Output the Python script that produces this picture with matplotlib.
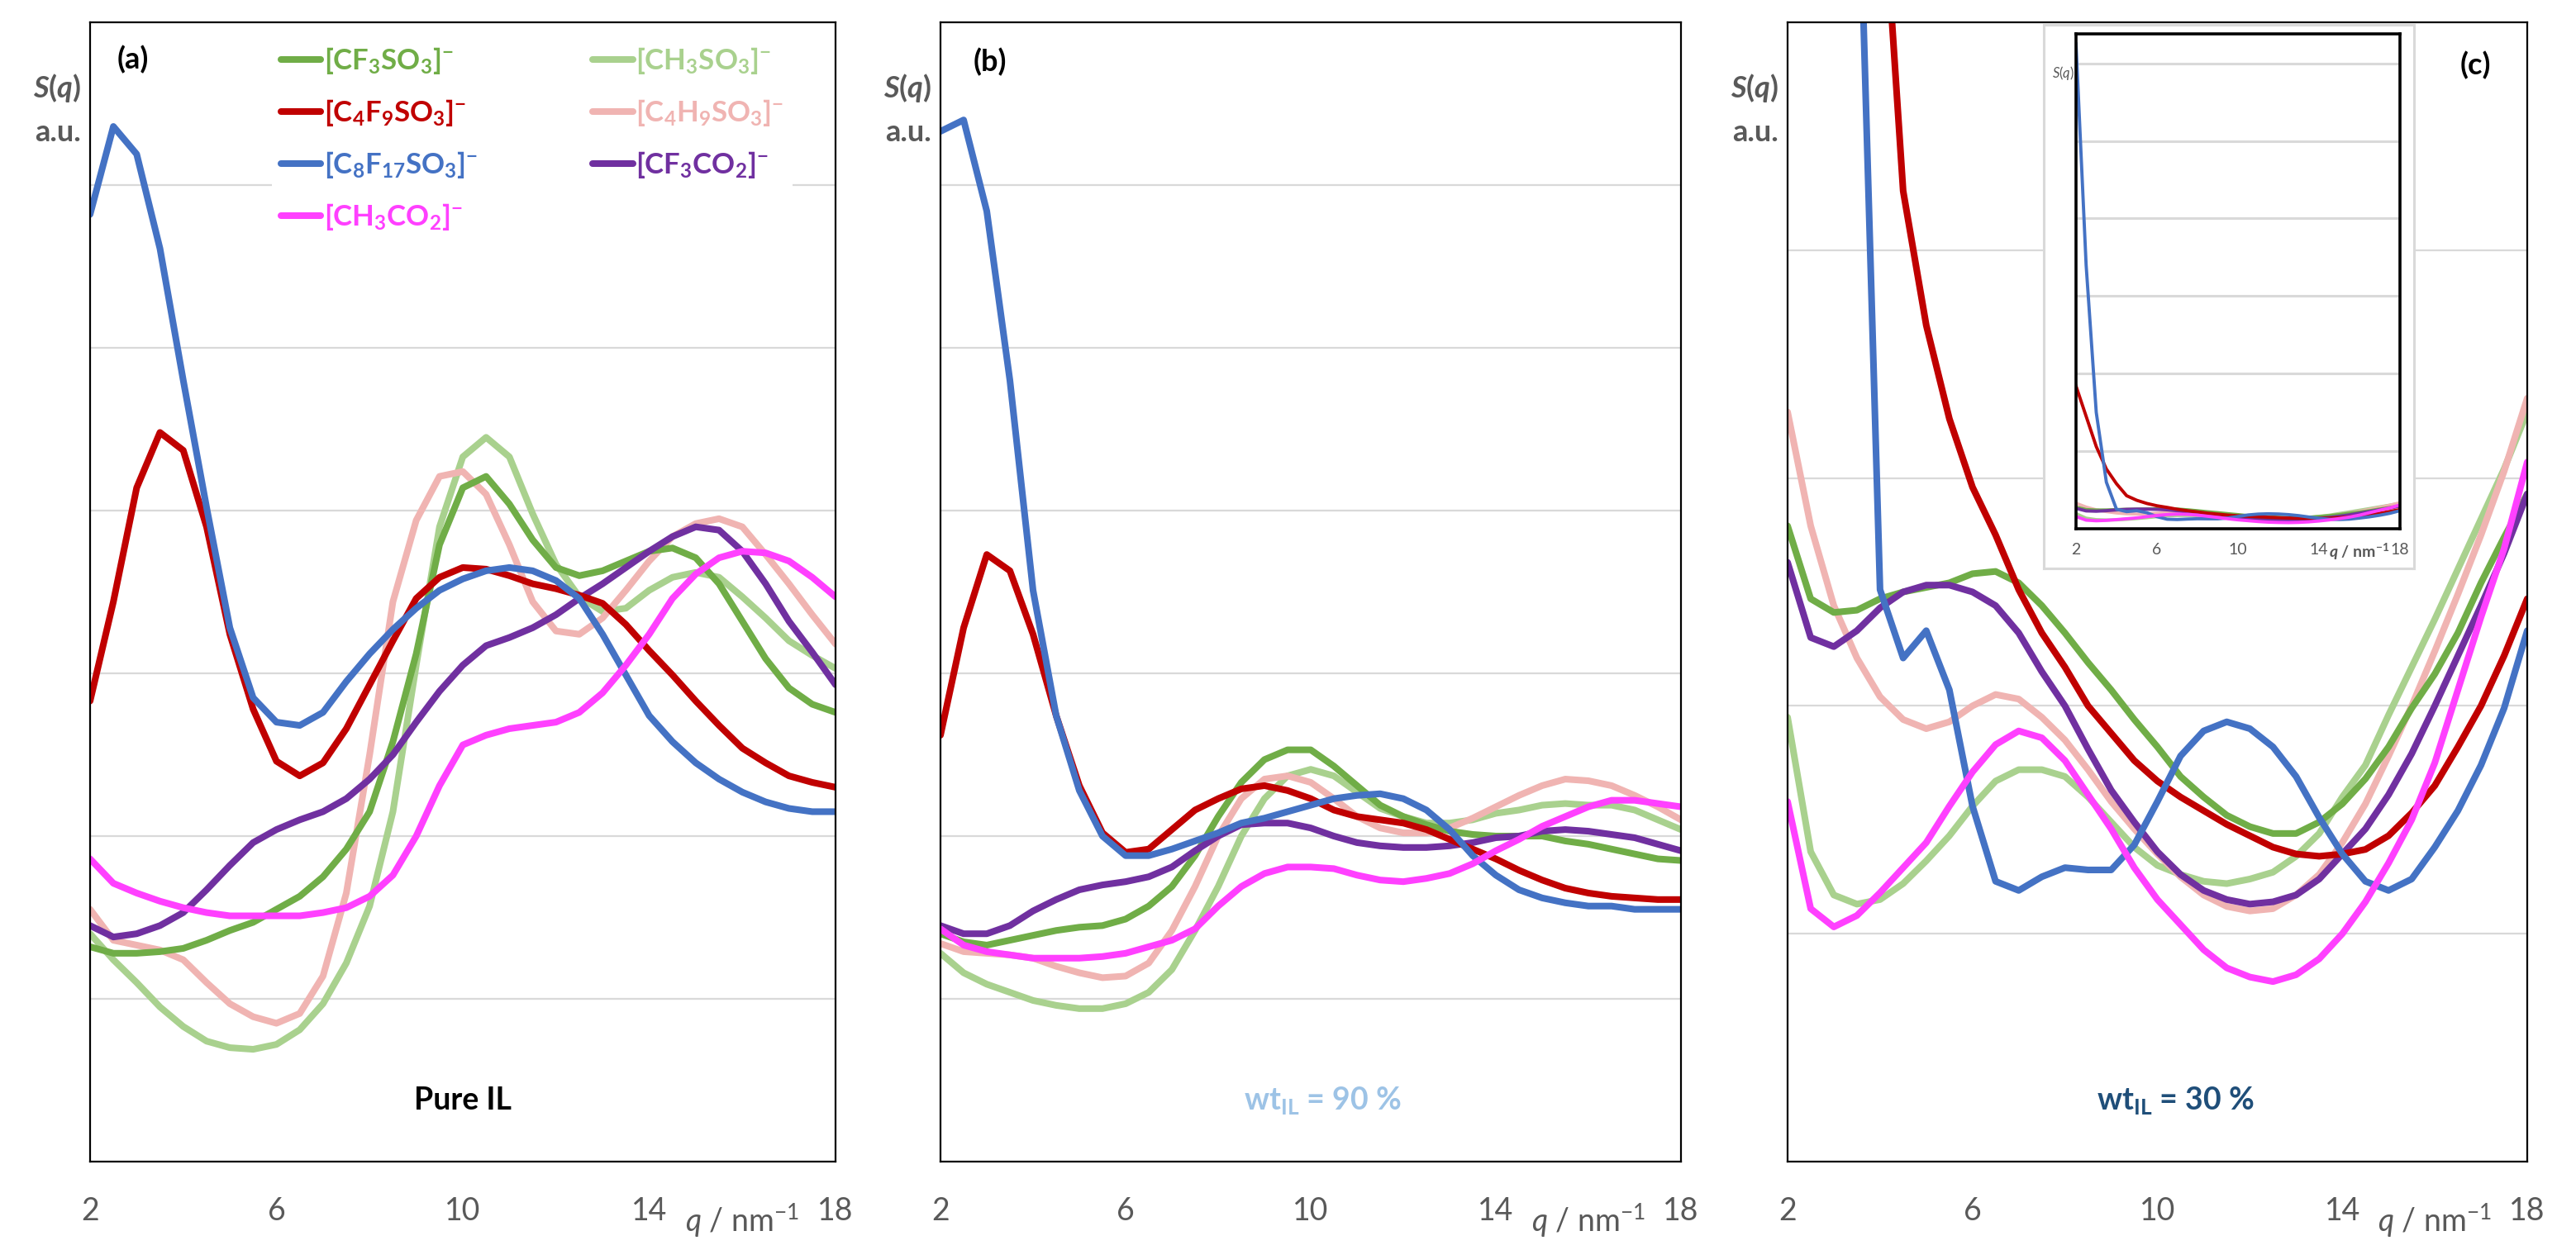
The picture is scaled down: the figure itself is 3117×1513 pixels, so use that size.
import numpy as np
import matplotlib
matplotlib.use('Agg')
import matplotlib.pyplot as plt

plt.rcParams['font.family'] = ['Lato', 'DejaVu Sans']
plt.rcParams['mathtext.fontset'] = 'custom'
plt.rcParams['mathtext.rm'] = 'Lato'
plt.rcParams['mathtext.it'] = 'Lato:italic'
plt.rcParams['mathtext.bf'] = 'Lato:bold'
plt.rcParams['mathtext.bfit'] = 'Lato:italic:bold'

# q grid (nm-1)
q = [2, 2.5, 3, 3.5, 4, 4.5, 5, 5.5, 6, 6.5, 7, 7.5, 8, 8.5, 9, 9.5, 10,
     10.5, 11, 11.5, 12, 12.5, 13, 13.5, 14, 14.5, 15, 15.5, 16, 16.5, 17, 17.5, 18]

# (a) pure IL
cf3so3_a = [1.32, 1.28, 1.28, 1.29, 1.31, 1.36, 1.42, 1.47, 1.55, 1.63, 1.75, 1.92, 2.15, 2.58, 3.12, 3.79, 4.14,
            4.21, 4.04, 3.82, 3.65, 3.60, 3.63, 3.69, 3.75, 3.77, 3.71, 3.55, 3.32, 3.09, 2.91, 2.81, 2.76]
c4f9so3_a = [2.83, 3.44, 4.14, 4.48, 4.37, 3.90, 3.24, 2.78, 2.46, 2.37, 2.45, 2.66, 2.93, 3.20, 3.46, 3.59, 3.65,
             3.64, 3.60, 3.55, 3.52, 3.48, 3.43, 3.30, 3.14, 2.99, 2.83, 2.68, 2.54, 2.45, 2.37, 2.33, 2.30]
c8f17so3_a = [5.82, 6.36, 6.19, 5.61, 4.80, 4.02, 3.28, 2.85, 2.70, 2.68, 2.76, 2.95, 3.12, 3.27, 3.40, 3.51, 3.58,
              3.63, 3.65, 3.63, 3.57, 3.46, 3.24, 2.99, 2.74, 2.58, 2.45, 2.35, 2.27, 2.21, 2.17, 2.15, 2.15]
ch3so3_a = [1.40, 1.24, 1.10, 0.95, 0.83, 0.74, 0.70, 0.69, 0.72, 0.81, 0.97, 1.22, 1.57, 2.15, 3.05, 3.90, 4.33,
            4.45, 4.33, 3.98, 3.67, 3.47, 3.38, 3.40, 3.51, 3.59, 3.62, 3.59, 3.47, 3.34, 3.20, 3.11, 3.03]
c4h9so3_a = [1.55, 1.36, 1.33, 1.30, 1.24, 1.10, 0.97, 0.89, 0.85, 0.91, 1.14, 1.65, 2.50, 3.44, 3.94, 4.21, 4.24,
             4.10, 3.79, 3.44, 3.26, 3.24, 3.34, 3.51, 3.69, 3.84, 3.92, 3.95, 3.90, 3.73, 3.55, 3.36, 3.18]
cf3co2_a = [1.45, 1.38, 1.40, 1.45, 1.53, 1.67, 1.82, 1.96, 2.04, 2.10, 2.15, 2.23, 2.35, 2.50, 2.70, 2.89, 3.05,
            3.17, 3.22, 3.28, 3.36, 3.46, 3.55, 3.65, 3.75, 3.84, 3.90, 3.88, 3.75, 3.55, 3.32, 3.13, 2.93]
ch3co2_a = [1.86, 1.71, 1.65, 1.60, 1.56, 1.53, 1.51, 1.51, 1.51, 1.51, 1.53, 1.56, 1.63, 1.76, 2.00, 2.31, 2.56,
            2.62, 2.66, 2.68, 2.70, 2.76, 2.88, 3.05, 3.24, 3.46, 3.61, 3.71, 3.75, 3.74, 3.69, 3.59, 3.47]

# (b) wt_IL = 90 %
cf3so3_b = [1.40, 1.35, 1.33, 1.36, 1.39, 1.42, 1.44, 1.45, 1.49, 1.57, 1.69, 1.88, 2.12, 2.33, 2.47, 2.53, 2.53,
            2.43, 2.31, 2.19, 2.12, 2.07, 2.03, 2.01, 2.00, 2.00, 2.00, 1.97, 1.95, 1.92, 1.89, 1.86, 1.85]
c4f9so3_b = [2.62, 3.28, 3.73, 3.63, 3.24, 2.74, 2.31, 2.02, 1.90, 1.92, 2.04, 2.16, 2.23, 2.29, 2.31, 2.28, 2.23,
             2.16, 2.12, 2.10, 2.08, 2.04, 1.98, 1.92, 1.86, 1.79, 1.73, 1.68, 1.65, 1.63, 1.62, 1.61, 1.61]
c8f17so3_b = [6.33, 6.40, 5.84, 4.80, 3.51, 2.74, 2.28, 2.00, 1.88, 1.88, 1.92, 1.97, 2.02, 2.08, 2.11, 2.15, 2.19,
              2.23, 2.25, 2.26, 2.23, 2.16, 2.04, 1.88, 1.76, 1.67, 1.62, 1.59, 1.57, 1.57, 1.55, 1.55, 1.55]
ch3so3_b = [1.28, 1.16, 1.09, 1.04, 0.99, 0.96, 0.94, 0.94, 0.97, 1.04, 1.18, 1.42, 1.69, 2.00, 2.23, 2.37, 2.41,
            2.37, 2.27, 2.17, 2.12, 2.08, 2.08, 2.10, 2.14, 2.16, 2.19, 2.20, 2.19, 2.19, 2.16, 2.10, 2.04]
c4h9so3_b = [1.34, 1.29, 1.28, 1.27, 1.25, 1.20, 1.16, 1.13, 1.14, 1.22, 1.42, 1.69, 2.00, 2.23, 2.35, 2.37, 2.33,
             2.23, 2.12, 2.05, 2.02, 2.02, 2.05, 2.11, 2.18, 2.25, 2.31, 2.35, 2.34, 2.31, 2.25, 2.18, 2.10]
cf3co2_b = [1.45, 1.40, 1.40, 1.45, 1.54, 1.61, 1.67, 1.70, 1.72, 1.75, 1.81, 1.91, 2.00, 2.07, 2.08, 2.08, 2.05,
            2.00, 1.96, 1.94, 1.93, 1.93, 1.94, 1.96, 1.99, 2.00, 2.03, 2.04, 2.03, 2.01, 1.99, 1.95, 1.91]
ch3co2_b = [1.43, 1.33, 1.29, 1.27, 1.25, 1.25, 1.25, 1.26, 1.28, 1.32, 1.36, 1.43, 1.57, 1.69, 1.77, 1.81, 1.81,
            1.80, 1.76, 1.73, 1.72, 1.74, 1.77, 1.83, 1.91, 1.98, 2.06, 2.12, 2.18, 2.22, 2.22, 2.20, 2.18]

# (c) wt_IL = 30 %  (low-q values of the two long chains)
cf3so3_c = [2.79, 2.47, 2.41, 2.42, 2.47, 2.50, 2.52, 2.54, 2.58, 2.59, 2.54, 2.44, 2.32, 2.19, 2.07, 1.94, 1.82,
            1.69, 1.60, 1.52, 1.47, 1.44, 1.44, 1.49, 1.57, 1.68, 1.82, 1.99, 2.14, 2.32, 2.54, 2.74, 2.93]
c4f9so3_c = [18.4, 14.5, 10.6, 7.7, 5.8, 4.26, 3.67, 3.26, 2.96, 2.75, 2.51, 2.32, 2.17, 2.00, 1.88, 1.76, 1.67,
             1.60, 1.54, 1.48, 1.43, 1.38, 1.35, 1.34, 1.35, 1.37, 1.43, 1.53, 1.65, 1.82, 2.00, 2.22, 2.47]
c8f17so3_c = [62.5, 34.0, 15.0, 6.0, 2.51, 2.21, 2.33, 2.07, 1.56, 1.23, 1.19, 1.25, 1.29, 1.28, 1.28, 1.39, 1.58,
              1.78, 1.89, 1.93, 1.90, 1.82, 1.69, 1.51, 1.35, 1.23, 1.19, 1.24, 1.38, 1.54, 1.74, 1.99, 2.33]
ch3so3_c = [1.95, 1.36, 1.17, 1.13, 1.15, 1.22, 1.32, 1.43, 1.56, 1.67, 1.72, 1.72, 1.69, 1.60, 1.49, 1.38, 1.30,
            1.26, 1.23, 1.22, 1.24, 1.27, 1.34, 1.44, 1.60, 1.74, 1.96, 2.17, 2.38, 2.60, 2.82, 3.04, 3.29]
c4h9so3_c = [3.29, 2.79, 2.44, 2.21, 2.04, 1.94, 1.90, 1.93, 2.00, 2.05, 2.03, 1.95, 1.85, 1.72, 1.58, 1.46, 1.35,
             1.25, 1.17, 1.12, 1.10, 1.11, 1.17, 1.26, 1.40, 1.57, 1.78, 2.00, 2.24, 2.49, 2.75, 3.03, 3.35]
cf3co2_c = [2.63, 2.30, 2.26, 2.33, 2.43, 2.50, 2.53, 2.53, 2.50, 2.44, 2.32, 2.15, 2.00, 1.81, 1.63, 1.49, 1.36,
            1.26, 1.19, 1.15, 1.13, 1.14, 1.17, 1.24, 1.35, 1.46, 1.61, 1.79, 2.00, 2.22, 2.44, 2.67, 2.93]
ch3co2_c = [1.58, 1.11, 1.03, 1.08, 1.18, 1.29, 1.40, 1.56, 1.71, 1.83, 1.89, 1.86, 1.76, 1.61, 1.46, 1.29, 1.15,
            1.04, 0.93, 0.85, 0.81, 0.79, 0.82, 0.89, 1.00, 1.14, 1.31, 1.50, 1.75, 2.07, 2.39, 2.69, 3.07]

labels = [r'[CF$_\mathbf{3}$SO$_\mathbf{3}$]$^\mathbf{-}$',
          r'[C$_\mathbf{4}$F$_\mathbf{9}$SO$_\mathbf{3}$]$^\mathbf{-}$',
          r'[C$_\mathbf{8}$F$_\mathbf{17}$SO$_\mathbf{3}$]$^\mathbf{-}$',
          r'[CH$_\mathbf{3}$CO$_\mathbf{2}$]$^\mathbf{-}$',
          r'[CH$_\mathbf{3}$SO$_\mathbf{3}$]$^\mathbf{-}$',
          r'[C$_\mathbf{4}$H$_\mathbf{9}$SO$_\mathbf{3}$]$^\mathbf{-}$',
          r'[CF$_\mathbf{3}$CO$_\mathbf{2}$]$^\mathbf{-}$']
colors = ['#70ad47', '#c00000', '#4472c4', '#ff40ff', '#a9d18e', '#f0b4b2', '#7030a0']

panel_a = [cf3so3_a, c4f9so3_a, c8f17so3_a, ch3co2_a, ch3so3_a, c4h9so3_a, cf3co2_a]
panel_b = [cf3so3_b, c4f9so3_b, c8f17so3_b, ch3co2_b, ch3so3_b, c4h9so3_b, cf3co2_b]
panel_c = [cf3so3_c, c4f9so3_c, c8f17so3_c, ch3co2_c, ch3so3_c, c4h9so3_c, cf3co2_c]
draw_order = [4, 5, 0, 6, 1, 2, 3]

grey = '#595959'
W, H = 3117, 1513
fig = plt.figure(figsize=(W / 100, H / 100), dpi=100)

def frac(x0, y0, x1, y1):
    return [x0 / W, 1 - y1 / H, (x1 - x0) / W, (y1 - y0) / H]

def setup(ax, ymax, grid_vals):
    ax.set_xlim(2, 18)
    ax.set_ylim(0, ymax)
    ax.set_xticks([2, 6, 10, 14, 18])
    ax.set_yticks(grid_vals)
    ax.tick_params(axis='x', length=0, pad=30, labelsize=27, labelcolor=grey)
    ax.tick_params(axis='y', length=0, labelleft=False)
    ax.yaxis.grid(True, color='#d9d9d9', lw=1.6)
    ax.set_axisbelow(True)
    for s in ax.spines.values():
        s.set_linewidth(1.6)
    ax.text(16.0, -0.052, r'$q$ / nm$^{-1}$', transform=ax.get_xaxis_transform(),
            ha='center', va='center', fontsize=27, color=grey)
    ax.text(-0.012, 0.942, r'$\mathbfit{S}$$\mathbf{(}$$\mathbfit{q}$$\mathbf{)}$',
            transform=ax.transAxes, ha='right', va='center', fontsize=26, color=grey)
    ax.text(-0.012, 0.903, 'a.u.', transform=ax.transAxes, ha='right', va='center',
            fontsize=26, fontweight='bold', color=grey)

axes = []
boxes = [(109, 1011), (1138, 2034), (2163, 3058)]
for (x0, x1) in boxes:
    axes.append(fig.add_axes(frac(x0, 27, x1, 1406)))

ax_a, ax_b, ax_c = axes
setup(ax_a, 7, [1, 2, 3, 4, 5, 6])
setup(ax_b, 7, [1, 2, 3, 4, 5, 6])
setup(ax_c, 5, [1, 2, 3, 4])

handles = [None] * 7
for ax, data in [(ax_a, panel_a), (ax_b, panel_b), (ax_c, panel_c)]:
    for i in draw_order:
        ln, = ax.plot(q, data[i], color=colors[i], lw=5.8, solid_capstyle='round',
                      solid_joinstyle='round', label=labels[i])
        if ax is ax_a:
            handles[i] = ln

leg = ax_a.legend(handles=handles, labels=labels, ncol=2, loc='upper left',
                  bbox_to_anchor=(0.225, 1.0), prop={'weight': 'bold', 'size': 25},
                  labelcolor='linecolor', handlelength=1.4, handletextpad=0.1,
                  columnspacing=4.0, labelspacing=0.75, borderpad=0.3,
                  frameon=True, facecolor='white', edgecolor='none', framealpha=1,
                  fancybox=False)

ax_a.text(0.057, 0.967, '(a)', transform=ax_a.transAxes, ha='center', va='center',
          fontsize=26, fontweight='bold')
ax_b.text(0.067, 0.965, '(b)', transform=ax_b.transAxes, ha='center', va='center',
          fontsize=26, fontweight='bold')
ax_c.text(0.93, 0.962, '(c)', transform=ax_c.transAxes, ha='center', va='center',
          fontsize=26, fontweight='bold')

ax_a.text(0.5, 0.054, 'Pure IL', transform=ax_a.transAxes, ha='center', va='center',
          fontsize=27, fontweight='bold')
ax_b.text(0.516, 0.054, r'wt$_\mathbf{IL}$ = 90 %', transform=ax_b.transAxes, ha='center',
          va='center', fontsize=27, fontweight='bold', color='#9dc3e6')
ax_c.text(0.525, 0.054, r'wt$_\mathbf{IL}$ = 30 %', transform=ax_c.transAxes, ha='center',
          va='center', fontsize=27, fontweight='bold', color='#1f4e79')

# inset of panel (c), full scale
box = fig.add_axes(frac(2473, 30, 2921, 688))
box.set_xticks([])
box.set_yticks([])
for s in box.spines.values():
    s.set_color('#d9d9d9')
    s.set_linewidth(2.2)
box.set_zorder(3)

ins = fig.add_axes(frac(2512, 41, 2904, 640))
ins.set_zorder(4)
ins.set_xlim(2, 18)
ins.set_ylim(0, 63.8)
ins.set_xticks([2, 6, 10, 14, 18])
ins.set_yticks([10, 20, 30, 40, 50, 60])
ins.tick_params(axis='x', length=0, pad=12, labelsize=14, labelcolor=grey)
ins.tick_params(axis='y', length=0, labelleft=False)
ins.yaxis.grid(True, color='#d9d9d9', lw=2.2)
ins.set_axisbelow(True)
for s in ins.spines.values():
    s.set_linewidth(2.6)
for i in draw_order:
    ins.plot(q, panel_c[i], color=colors[i], lw=2.8, solid_joinstyle='round')
ins.text(16.0, -0.047, r'$\mathbfit{q}$ / nm$^\mathbf{-1}$', transform=ins.get_xaxis_transform(),
         ha='center', va='center', fontsize=14, fontweight='bold', color=grey)
ins.text(-0.005, 0.92, r'$S$($q$)', transform=ins.transAxes, ha='right', va='center',
         fontsize=12, color=grey)

fig.savefig('out.png', dpi=100)
